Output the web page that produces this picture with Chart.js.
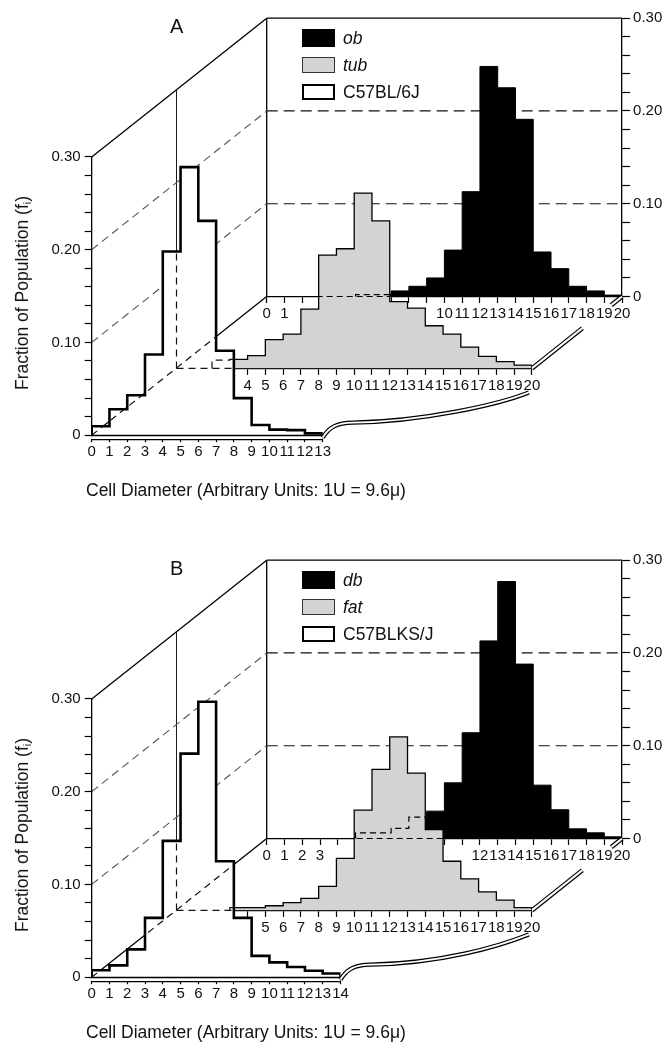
<!DOCTYPE html>
<html><head><meta charset="utf-8"><title>Adipocyte size distributions</title>
<script src="https://cdn.jsdelivr.net/npm/chart.js@4.4.1/dist/chart.umd.min.js"></script>
<style>
html,body{margin:0;padding:0;background:#fff;}
body{width:665px;height:1045px;overflow:hidden;position:relative;font-family:"Liberation Sans",Arial,Helvetica,sans-serif;color:#111;}
.panel{position:absolute;left:0;width:665px;height:520px;}
.panel canvas{position:absolute;left:0;top:0;}
.txt{position:absolute;white-space:nowrap;line-height:1;font-size:17.5px;}
.box{position:absolute;box-sizing:border-box;}
.ytitle{position:absolute;left:23px;top:293px;transform:translate(-50%,-50%) rotate(-90deg);white-space:nowrap;font-size:17.5px;line-height:1;}
.ytitle sub{font-size:0.6em;vertical-align:-0.25em;}
</style></head><body>
<script>
// ---------------- data ----------------
const frontBinsA = [0,1,2,3,4,5,6,7,8,9,10,11,12];
const frontValsA = [0.0097,0.028,0.043,0.087,0.198,0.289,0.231,0.091,0.040,0.011,0.006,0.0055,0.002];
const midBinsA   = [2,3,4,5,6,7,8,9,10,11,12,13,14,15,16,17,18,19];
const midValsA   = [0.009,0.0097,0.0137,0.031,0.037,0.064,0.122,0.129,0.189,0.159,0.072,0.065,0.046,0.037,0.023,0.013,0.0072,0.0036];
const backBinsA  = [5,6,7,8,9,10,11,12,13,14,15,16,17,18,19];
const backValsA  = [0.002,0.002,0.006,0.011,0.020,0.050,0.113,0.248,0.225,0.191,0.048,0.030,0.011,0.006,0.0015];

const frontBinsB = [0,1,2,3,4,5,6,7,8,9,10,11,12,13];
const frontValsB = [0.0075,0.0128,0.030,0.064,0.147,0.241,0.297,0.125,0.064,0.023,0.016,0.011,0.007,0.004];
const midBinsB   = [3,4,5,6,7,8,9,10,11,12,13,14,15,16,17,18,19];
const midValsB   = [0.003,0.003,0.005,0.0084,0.013,0.026,0.056,0.108,0.152,0.187,0.148,0.087,0.053,0.034,0.020,0.011,0.003];
const backBinsB  = [5,6,7,8,9,10,11,12,13,14,15,16,17,18,19];
const backValsB  = [0.006,0.006,0.011,0.023,0.0295,0.060,0.114,0.213,0.277,0.188,0.0575,0.031,0.0104,0.0061,0.0018];

const frontTickLabelsA = [0,1,2,3,4,5,6,7,8,9,10,11,12,13];
const frontTickLabelsB = [0,1,2,3,4,5,6,7,8,9,10,11,12,13,14];
const midTickLabelsA   = [4,5,6,7,8,9,10,11,12,13,14,15,16,17,18,19,20];
const midTickLabelsB   = [5,6,7,8,9,10,11,12,13,14,15,16,17,18,19,20];
const backTickLabelsA  = [0,1,10,11,12,13,14,15,16,17,18,19,20];
const backTickLabelsB  = [0,1,2,3,12,13,14,15,16,17,18,19,20];
const yTickLabels      = ['0','0.10','0.20','0.30'];
const wallGridLevels   = [0.1,0.2];
const legendA = ['ob','tub','C57BL/6J'];
const legendB = ['db','fat','C57BLKS/J'];
const xTitle = 'Cell Diameter (Arbitrary Units: 1U = 9.6\u03bc)';

// ---------------- layout ----------------
const W = 665, H = 520;
const GEO = {fx:91.7, fy:435.2, mx:176.5, my:368.4, bx:266.7, by:296.5, ux:17.77, hy:278.3};
const GRAY = '#d3d3d3';

Chart.defaults.font.family = '"Liberation Sans", Arial, Helvetica, sans-serif';
Chart.defaults.color = '#111';

function stepPoints(bins, vals){
  const pts = [{x:bins[0], y:0}];
  bins.forEach((b,i)=>pts.push({x:b, y:vals[i]}));
  pts.push({x:bins[bins.length-1]+1, y:0});
  return pts;
}
function histDataset(bins, vals, fill, lw){
  return {data: stepPoints(bins, vals), stepped: true, fill: 'origin', backgroundColor: fill,
    borderColor: '#000', borderWidth: lw, pointRadius: 0, pointHoverRadius: 0,
    borderJoinStyle: 'miter', borderCapStyle: 'butt'};
}
function xScale(max, bottomPx, labels, tickLen, pad){
  return {type:'linear', min:0, max:max, position:'bottom', z:1,
    afterFit: s => { s.height = H - bottomPx; s.paddingLeft = 0; s.paddingRight = 0; },
    ticks:{stepSize:1, autoSkip:false, maxRotation:0, minRotation:0, padding:pad, color:'#111', font:{size:15},
      callback: v => labels.includes(Math.round(v)) ? String(Math.round(v)) : ''},
    grid:{drawOnChartArea:false, drawTicks:true, tickLength:tickLen, color:'#000', tickColor:'#000', tickWidth:1.2},
    border:{display:true, color:'#000', width:1.3}};
}
function yScale(position, widthPx, tickLen, pad){
  return {type:'linear', min:0, max:0.3, position:position,
    afterFit: s => { s.width = widthPx; s.paddingTop = 0; s.paddingBottom = 0; },
    ticks:{stepSize:0.02, autoSkip:false, padding:pad, color:'#111', font:{size:15},
      callback: v => { const r = Math.round(v*100); return r % 10 === 0 ? yTickLabels[r/10] : ''; }},
    grid:{drawOnChartArea:false, drawTicks:true, tickLength:tickLen, color:'#000', tickColor:'#000', tickWidth:1.2},
    border:{display:true, color:'#000', width:1.3}};
}
function baseOptions(padding){
  return {responsive:false, animation:false, devicePixelRatio:1, events:[],
    layout:{autoPadding:false, padding:padding},
    plugins:{legend:{display:false}, tooltip:{enabled:false}, title:{display:false}}};
}

// ---------------- drawing helpers ----------------
const P = (ch, x, y) => [ch.scales.x.getPixelForValue(x), ch.scales.y.getPixelForValue(y)];
function style(ctx, color, w, dash){ ctx.strokeStyle = color; ctx.lineWidth = w; ctx.setLineDash(dash || []); }
function seg(ctx, a, b){ ctx.beginPath(); ctx.moveTo(a[0], a[1]); ctx.lineTo(b[0], b[1]); ctx.stroke(); }
function stepPath(ctx, ch, bins, vals, close){
  ctx.beginPath();
  const s = P(ch, bins[0], 0); ctx.moveTo(s[0], s[1]);
  bins.forEach((b,i)=>{ const a = P(ch, b, vals[i]); const e = P(ch, b+1, vals[i]); ctx.lineTo(a[0], a[1]); ctx.lineTo(e[0], e[1]); });
  const z = P(ch, bins[bins.length-1]+1, 0); ctx.lineTo(z[0], z[1]);
  if (close) ctx.closePath();
}
function doubleStroke(ctx, build, outer, inner){
  ctx.setLineDash([]);
  build(); ctx.strokeStyle = '#000'; ctx.lineWidth = outer; ctx.stroke();
  build(); ctx.strokeStyle = '#fff'; ctx.lineWidth = inner; ctx.stroke();
}

function drawBackground(B, pn){
  const F = pn.front, M = pn.mid, ctx = B.ctx;
  ctx.save(); ctx.lineCap = 'butt'; ctx.lineJoin = 'miter';
  style(ctx, '#000', 1.3);
  seg(ctx, P(F,0,0.3), P(B,0,0.3));
  seg(ctx, P(B,0,0.3), P(B,20,0.3));
  seg(ctx, P(B,0,0), P(B,0,0.3));
  seg(ctx, P(F,0,0), P(B,0,0));
  style(ctx, '#1a1a1a', 1);
  seg(ctx, P(M,0,0), P(M,0,0.3));
  style(ctx, '#555', 1.1, [8,5]);
  wallGridLevels.forEach(v => seg(ctx, P(F,0,v), P(B,0,v)));
  style(ctx, '#111', 1.2, [11,6]);
  wallGridLevels.forEach(v => seg(ctx, P(B,0,v), P(B,20,v)));
  // broken double link between middle and back axis ends
  const a = P(M,20,0), b = P(B,20,0);
  const at = t => [a[0]+(b[0]-a[0])*t, a[1]+(b[1]-a[1])*t];
  [[0,0.56],[0.88,1]].forEach(([t0,t1]) => {
    const p = at(t0), q = at(t1);
    doubleStroke(ctx, () => { ctx.beginPath(); ctx.moveTo(p[0],p[1]); ctx.lineTo(q[0],q[1]); }, 4.5, 2);
  });
  ctx.restore();
}
function drawMidHidden(M, pn, cfg){
  const B = pn.back, ctx = M.ctx;
  ctx.save();
  stepPath(ctx, M, cfg.midBins, cfg.midVals, true); ctx.clip();
  style(ctx, '#000', 1.2, [6,4]);
  seg(ctx, P(B,0,0), P(B,20,0));
  stepPath(ctx, B, cfg.backBins, cfg.backVals, false); ctx.stroke();
  ctx.restore();
}
function drawFrontOverlay(F, pn, cfg){
  const M = pn.mid, B = pn.back, ctx = F.ctx;
  // hidden lines, shown dashed where the front histogram covers them
  ctx.save();
  stepPath(ctx, F, cfg.frontBins, cfg.frontVals, true); ctx.clip();
  style(ctx, '#111', 1.2, [7,5]);
  seg(ctx, P(M,0,0), P(M,0,0.3));
  seg(ctx, P(M,0,0), P(M,20,0));
  seg(ctx, P(F,0,0), P(B,0,0));
  stepPath(ctx, M, cfg.midBins, cfg.midVals, false); ctx.stroke();
  ctx.restore();
  // double front axis + wavy connector to the middle axis
  ctx.save(); ctx.lineCap = 'butt';
  const n = cfg.frontMax;
  const y0 = P(F,0,0)[1] + 2.4;
  const x0 = P(F,0,0)[0], x1 = P(F,n,0)[0];
  doubleStroke(ctx, () => { ctx.beginPath(); ctx.moveTo(x0-0.6, y0); ctx.lineTo(x1, y0); }, 5.5, 2.8);
  const me = P(M,20,0);
  const S = [x1, y0], E = [me[0]-3, me[1]+24];
  doubleStroke(ctx, () => {
    ctx.beginPath(); ctx.moveTo(S[0], S[1]);
    ctx.bezierCurveTo(S[0]+6, S[1]-10, S[0]+14, S[1]-15, S[0]+30, S[1]-15);
    ctx.bezierCurveTo(S[0]+100, S[1]-16, E[0]-30, E[1]+12, E[0], E[1]);
  }, 4.3, 1.9);
  ctx.restore();
}

// ---------------- build a panel ----------------
function addText(parent, html, css, cls){
  const d = document.createElement('div'); d.className = cls || 'txt'; d.innerHTML = html;
  Object.assign(d.style, css); parent.appendChild(d); return d;
}
function buildPanel(cfg){
  const wrap = document.createElement('div'); wrap.className = 'panel'; wrap.style.top = cfg.top + 'px';
  document.body.appendChild(wrap);
  const mk = () => { const c = document.createElement('canvas'); c.width = W; c.height = H; wrap.appendChild(c); return c; };
  const cBack = mk(), cMid = mk(), cFront = mk();
  const g = GEO, pn = {};

  pn.back = new Chart(cBack, {type:'line',
    data:{datasets:[histDataset(cfg.backBins, cfg.backVals, '#000', 1)]},
    options:Object.assign(baseOptions({left:g.bx, top:g.by-g.hy, right:0, bottom:0}), {
      scales:{x:xScale(20, g.by, cfg.backLabels, 6.5, 2), y:yScale('right', W-(g.bx+20*g.ux), 8, 3)}}),
    plugins:[{id:'bg', beforeDatasetsDraw(ch){ if (pn.front && pn.mid) drawBackground(ch, pn); }}]});

  pn.mid = new Chart(cMid, {type:'line',
    data:{datasets:[histDataset(cfg.midBins, cfg.midVals, GRAY, 1.3)]},
    options:Object.assign(baseOptions({left:g.mx, top:g.my-g.hy, right:W-(g.mx+20*g.ux), bottom:0}), {
      scales:{x:xScale(20, g.my, cfg.midLabels, 6.5, 2), y:{type:'linear', min:0, max:0.3, display:false}}}),
    plugins:[{id:'midHidden', afterDatasetsDraw(ch){ if (pn.back) drawMidHidden(ch, pn, cfg); }}]});

  const fxs = xScale(cfg.frontMax, g.fy, cfg.frontLabels, 7, 1); fxs.border = {display:false};
  pn.front = new Chart(cFront, {type:'line',
    data:{datasets:[histDataset(cfg.frontBins, cfg.frontVals, '#fff', 2.6)]},
    options:Object.assign(baseOptions({left:0, top:g.fy-g.hy, right:W-(g.fx+cfg.frontMax*g.ux), bottom:0}), {
      scales:{x:fxs, y:yScale('left', g.fx, 7, 4)}}),
    plugins:[{id:'frontOverlay', afterDatasetsDraw(ch){ if (pn.back && pn.mid) drawFrontOverlay(ch, pn, cfg); }}]});

  pn.back.draw(); pn.mid.draw(); pn.front.draw();

  // texts
  addText(wrap, cfg.letter, {left:'170px', top:'16px', fontSize:'20px'});
  addText(wrap, 'Fraction of Population (f<sub>i</sub>)', {}, 'ytitle');
  addText(wrap, xTitle, {left:'86px', top:'482px'});
  const boxes = [
    {top:28.5, h:18, bg:'#000', border:'none'},
    {top:56.5, h:16.5, bg:GRAY, border:'1.5px solid #333'},
    {top:83.5, h:16.5, bg:'#fff', border:'2.6px solid #000'}];
  boxes.forEach((b,i) => {
    const d = document.createElement('div'); d.className = 'box';
    Object.assign(d.style, {left:'302px', top:b.top+'px', width:'33px', height:b.h+'px', background:b.bg, border:b.border});
    wrap.appendChild(d);
    addText(wrap, cfg.legend[i], {left:'343px', top:(b.top + b.h - 16.3)+'px', fontStyle: i < 2 ? 'italic' : 'normal'});
  });
}

buildPanel({top:0, letter:'A', legend:legendA, frontMax:13,
  frontBins:frontBinsA, frontVals:frontValsA, frontLabels:frontTickLabelsA,
  midBins:midBinsA, midVals:midValsA, midLabels:midTickLabelsA,
  backBins:backBinsA, backVals:backValsA, backLabels:backTickLabelsA});
buildPanel({top:542, letter:'B', legend:legendB, frontMax:14,
  frontBins:frontBinsB, frontVals:frontValsB, frontLabels:frontTickLabelsB,
  midBins:midBinsB, midVals:midValsB, midLabels:midTickLabelsB,
  backBins:backBinsB, backVals:backValsB, backLabels:backTickLabelsB});
</script>
</body></html>
